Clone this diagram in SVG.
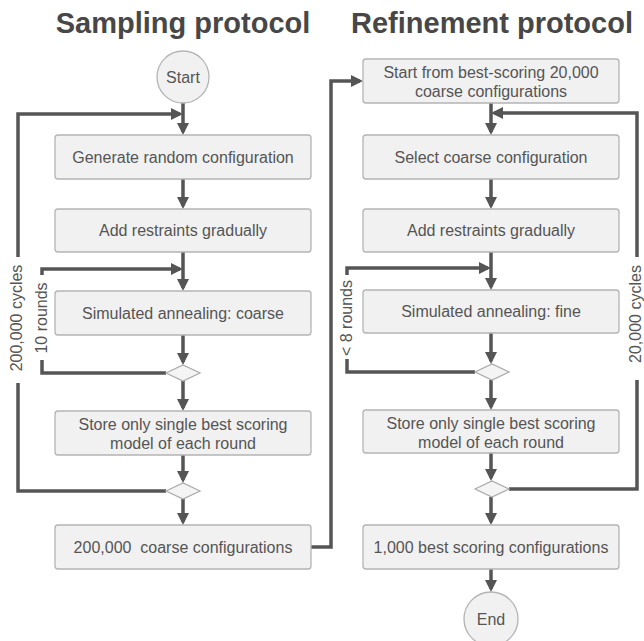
<svg xmlns="http://www.w3.org/2000/svg" width="644" height="641" viewBox="0 0 644 641">
<style>
.title{font-family:"Liberation Sans",Arial,sans-serif;font-weight:bold;font-size:29px;fill:#474747;text-anchor:middle}
.box{fill:#f1f1f1;stroke:#b4b4b4;stroke-width:1.3}
.lbl{font-family:"Liberation Sans",Arial,sans-serif;font-size:16px;fill:#555;text-anchor:middle}
.dia{fill:#f4f4f4;stroke:#aaa;stroke-width:1.2}
.c{fill:none;stroke:#555;stroke-width:3.5}
.a{marker-end:url(#ah)}
</style>
<defs>
<marker id="ah" markerUnits="userSpaceOnUse" markerWidth="14" markerHeight="14" refX="9" refY="6" orient="auto">
<path d="M0,0 L12,6 L0,12 Z" fill="#555"/>
</marker>
</defs>
<rect width="644" height="641" fill="#fff"/>
<text class="title" x="183" y="33">Sampling protocol</text>
<text class="title" x="492" y="33">Refinement protocol</text>

<g id="connectors">
<!-- left column -->
<path class="c a" d="M183,103 V132"/>
<path class="c a" d="M18,257 V114 H180"/>
<path class="c" d="M18,383 V491 H166"/>
<path class="c a" d="M183,179 V206"/>
<path class="c a" d="M183,252 V288"/>
<path class="c a" d="M42,275 V269 H180"/>
<path class="c" d="M42,360 V373 H166"/>
<path class="c a" d="M183,335 V362"/>
<path class="c a" d="M183,381 V408"/>
<path class="c a" d="M183,455 V480"/>
<path class="c a" d="M183,499 V522"/>
<path class="c a" d="M311,547 H331 V81 H360"/>
<!-- right column -->
<path class="c a" d="M491,103 V132"/>
<path class="c a" d="M637,257 V113 H494"/>
<path class="c" d="M637,380 V489 H509"/>
<path class="c a" d="M491,179 V206"/>
<path class="c a" d="M491,252 V287"/>
<path class="c a" d="M347,275 V268 H488"/>
<path class="c" d="M347,359 V372 H475"/>
<path class="c a" d="M491,333 V361"/>
<path class="c a" d="M491,380 V407"/>
<path class="c a" d="M491,453 V478"/>
<path class="c a" d="M491,497 V522"/>
<path class="c a" d="M491,569 V589"/>
<text class="lbl" transform="translate(22,318) rotate(-90)">200,000 cycles</text>
<text class="lbl" transform="translate(47,318) rotate(-90)">10 rounds</text>
<text class="lbl" transform="translate(352,318) rotate(-90)">&lt; 8 rounds</text>
<text class="lbl" transform="translate(641,314) rotate(-90)">20,000 cycles</text>
</g>

<g id="start">
<circle class="box" cx="183" cy="77" r="26"/>
<text class="lbl" x="183" y="83">Start</text>
</g>
<g id="generate">
<rect class="box" x="55" y="135" width="256" height="44" rx="3"/>
<text class="lbl" x="183" y="163">Generate random configuration</text>
</g>
<g id="add-left">
<rect class="box" x="55" y="209" width="256" height="43" rx="3"/>
<text class="lbl" x="183" y="236">Add restraints gradually</text>
</g>
<g id="sa-coarse">
<rect class="box" x="55" y="291" width="256" height="44" rx="3"/>
<text class="lbl" x="183" y="319">Simulated annealing: coarse</text>
</g>
<g id="dec-left-1">
<path class="dia" d="M166,373 L183,365 L200,373 L183,381 Z"/>
</g>
<g id="store-left">
<rect class="box" x="55" y="411" width="256" height="44" rx="3"/>
<text class="lbl" x="183" y="430">Store only single best scoring</text>
<text class="lbl" x="183" y="449">model of each round</text>
</g>
<g id="dec-left-2">
<path class="dia" d="M166,491 L183,483 L200,491 L183,499 Z"/>
</g>
<g id="coarse-configs">
<rect class="box" x="55" y="525" width="256" height="44" rx="3"/>
<text class="lbl" x="183" y="553" xml:space="preserve" style="white-space:pre">200,000  coarse configurations</text>
</g>

<g id="start-refine">
<rect class="box" x="363" y="59" width="256" height="44" rx="3"/>
<text class="lbl" x="491" y="78">Start from best-scoring 20,000</text>
<text class="lbl" x="491" y="97">coarse configurations</text>
</g>
<g id="select">
<rect class="box" x="363" y="135" width="256" height="44" rx="3"/>
<text class="lbl" x="491" y="163">Select coarse configuration</text>
</g>
<g id="add-right">
<rect class="box" x="363" y="209" width="256" height="43" rx="3"/>
<text class="lbl" x="491" y="236">Add restraints gradually</text>
</g>
<g id="sa-fine">
<rect class="box" x="363" y="290" width="256" height="43" rx="3"/>
<text class="lbl" x="491" y="317">Simulated annealing: fine</text>
</g>
<g id="dec-right-1">
<path class="dia" d="M475,372 L492,364 L509,372 L492,380 Z"/>
</g>
<g id="store-right">
<rect class="box" x="363" y="410" width="256" height="43" rx="3"/>
<text class="lbl" x="491" y="429">Store only single best scoring</text>
<text class="lbl" x="491" y="448">model of each round</text>
</g>
<g id="dec-right-2">
<path class="dia" d="M475,489 L492,481 L509,489 L492,497 Z"/>
</g>
<g id="best-configs">
<rect class="box" x="363" y="525" width="256" height="44" rx="3"/>
<text class="lbl" x="491" y="553">1,000 best scoring configurations</text>
</g>
<g id="end">
<circle class="box" cx="491" cy="619" r="27"/>
<text class="lbl" x="491" y="625">End</text>
</g>
</svg>
